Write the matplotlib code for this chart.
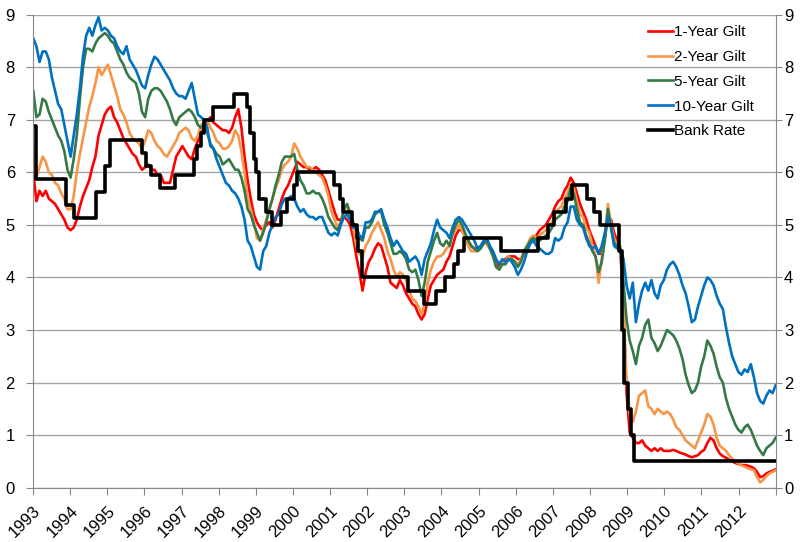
import matplotlib
matplotlib.use("Agg")
import matplotlib.pyplot as plt
import pandas as pd

plt.rcParams['font.family'] = ['Liberation Sans', 'DejaVu Sans']

dates = pd.date_range("1993-01-04", "2012-12-31", periods=240)

one_year = [
    6.0, 5.45, 5.65, 5.55, 5.65, 5.5, 5.45, 5.4, 5.3, 5.2, 5.1, 4.95,
    4.9, 4.95, 5.1, 5.35, 5.55, 5.7, 5.85, 6.1, 6.3, 6.7, 6.9, 7.1,
    7.2, 7.25, 7.05, 6.95, 6.8, 6.65, 6.55, 6.45, 6.35, 6.3, 6.15, 6.05,
    6.1, 6.15, 6.05, 6.05, 5.95, 5.95, 5.8, 5.8, 5.8, 6.05, 6.3, 6.4,
    6.5, 6.4, 6.3, 6.25, 6.45, 6.6, 6.75, 6.85, 6.95, 7.05, 6.95, 6.9,
    6.85, 6.8, 6.8, 6.75, 6.85, 7.05, 7.2, 6.85, 6.3, 5.85, 5.5, 5.2,
    5.05, 4.95, 4.9, 5.0, 5.05, 4.95, 5.1, 5.3, 5.5, 5.65, 5.75, 5.9,
    6.05, 6.2, 6.15, 6.1, 6.1, 6.05, 6.05, 6.1, 6.05, 5.95, 5.85, 5.65,
    5.45, 5.25, 5.1, 5.1, 5.15, 5.1, 5.0, 4.75, 4.4, 4.1, 3.75, 4.1,
    4.3, 4.4, 4.55, 4.65, 4.6, 4.4, 4.2, 3.9, 3.85, 3.8, 3.95, 3.85,
    3.7, 3.6, 3.5, 3.45, 3.3, 3.2, 3.3, 3.6, 3.85, 3.95, 4.05, 4.1,
    4.15, 4.3, 4.4, 4.6, 4.8, 4.9, 4.9, 4.8, 4.7, 4.6, 4.55, 4.55,
    4.6, 4.65, 4.65, 4.55, 4.45, 4.3, 4.2, 4.25, 4.35, 4.4, 4.4, 4.4,
    4.35, 4.35, 4.45, 4.55, 4.65, 4.75, 4.8, 4.9, 4.95, 5.0, 5.1, 5.2,
    5.35, 5.45, 5.5, 5.65, 5.75, 5.9, 5.8, 5.6, 5.4, 5.25, 5.1, 4.9,
    4.75, 4.6, 4.45, 4.45, 4.75, 5.15, 5.1, 4.85, 4.7, 4.5, 3.4, 1.8,
    1.05, 0.95, 0.85, 0.85, 0.9, 0.8, 0.75, 0.7, 0.75, 0.7, 0.75, 0.7,
    0.7, 0.7, 0.72, 0.7, 0.67, 0.65, 0.63, 0.6, 0.58, 0.6, 0.62, 0.68,
    0.72, 0.85, 0.95, 0.9, 0.75, 0.65, 0.6, 0.57, 0.53, 0.5, 0.47, 0.45,
    0.43, 0.43, 0.42, 0.4, 0.37, 0.3, 0.2, 0.22, 0.27, 0.3, 0.32, 0.35,
]

two_year = [
    6.5, 5.9, 6.1, 6.3, 6.2, 6.0, 5.95, 5.8, 5.75, 5.6, 5.5, 5.3,
    5.3, 5.55, 6.0, 6.35, 6.65, 6.95, 7.25, 7.45, 7.7, 8.0, 7.85, 7.95,
    8.05, 7.85, 7.65, 7.45, 7.2, 7.1, 6.95, 6.75, 6.65, 6.6, 6.55, 6.45,
    6.6, 6.8, 6.75, 6.6, 6.5, 6.45, 6.35, 6.3, 6.4, 6.5, 6.6, 6.75,
    6.8, 6.85, 6.8, 6.65, 6.6, 6.7, 6.9, 6.95, 7.0, 6.85, 6.75, 6.6,
    6.55, 6.45, 6.45, 6.5, 6.6, 6.8, 6.7, 6.4, 6.0, 5.5, 5.3, 5.05,
    4.75, 4.7, 4.9, 5.1, 5.3, 5.5, 5.7, 5.85, 6.05, 6.15, 6.2, 6.3,
    6.55, 6.45, 6.3, 6.2, 6.1, 6.1, 6.05, 6.0, 5.95, 5.9, 5.75, 5.55,
    5.25, 5.1, 4.95, 5.05, 5.25, 5.4, 5.25, 4.95, 4.6, 4.45, 4.4, 4.6,
    4.7, 4.85, 4.95, 5.05, 4.9, 4.75, 4.5, 4.35, 4.15, 4.0, 4.1, 4.05,
    3.95, 3.75, 3.6, 3.55, 3.45, 3.3, 3.5, 3.9, 4.15, 4.3, 4.4, 4.4,
    4.45, 4.55, 4.6, 4.8, 4.9, 5.0, 4.9, 4.75, 4.6, 4.5, 4.5, 4.5,
    4.55, 4.65, 4.65, 4.55, 4.45, 4.2, 4.15, 4.3, 4.3, 4.4, 4.35, 4.3,
    4.25, 4.35, 4.5, 4.6, 4.75, 4.8, 4.75, 4.8, 4.85, 4.9, 5.0, 5.05,
    5.2, 5.3, 5.35, 5.5, 5.6, 5.8, 5.7, 5.45, 5.2, 5.15, 4.95, 4.85,
    4.6, 4.4, 3.9, 4.35, 4.8, 5.4, 5.0, 4.75, 4.6, 4.6, 3.5, 2.0,
    1.4, 1.25, 1.45, 1.75, 1.8, 1.85, 1.55, 1.5, 1.4, 1.5, 1.45, 1.4,
    1.45, 1.4, 1.3, 1.15, 1.1, 1.0, 0.9, 0.85, 0.8, 0.75, 0.9, 1.05,
    1.2, 1.4, 1.35, 1.2, 0.95, 0.8, 0.75, 0.7, 0.62, 0.55, 0.5, 0.46,
    0.42, 0.4, 0.37, 0.35, 0.33, 0.2, 0.1, 0.15, 0.22, 0.27, 0.3, 0.33,
]

five_year = [
    7.55, 7.05, 7.1, 7.4, 7.35, 7.15, 7.0, 6.85, 6.7, 6.6, 6.4, 6.05,
    5.9, 6.25, 6.7, 7.4, 8.0, 8.35, 8.35, 8.3, 8.45, 8.55, 8.6, 8.65,
    8.6, 8.5, 8.45, 8.3, 8.15, 8.05, 7.9, 7.8, 7.75, 7.7, 7.5, 7.15,
    7.05, 7.4, 7.55, 7.6, 7.6, 7.55, 7.45, 7.35, 7.2, 7.0, 6.9, 7.05,
    7.1, 7.15, 7.2, 7.15, 7.05, 6.9, 6.85, 6.9, 6.75, 6.55, 6.45, 6.35,
    6.3, 6.15, 6.2, 6.25, 6.15, 6.05, 6.05, 5.9, 5.65, 5.3, 5.2, 5.0,
    4.85, 4.7, 4.85, 5.05, 5.3, 5.5, 5.75, 5.95, 6.2, 6.3, 6.3, 6.3,
    6.35, 6.05, 5.85, 5.75, 5.6, 5.6, 5.65, 5.6, 5.6, 5.5, 5.35, 5.15,
    5.05, 4.95, 4.9, 5.05, 5.3, 5.4, 5.2, 5.05, 4.9, 4.75, 4.7, 4.95,
    4.95, 5.05, 5.2, 5.25, 5.25, 5.0, 4.85, 4.65, 4.45, 4.45, 4.5, 4.45,
    4.35, 4.15, 4.1, 4.15, 3.95, 3.65, 3.9, 4.3, 4.5, 4.7, 4.85, 4.65,
    4.6, 4.7, 4.6, 4.85, 5.0, 5.1, 5.0, 4.85, 4.7, 4.6, 4.55, 4.5,
    4.55, 4.65, 4.7, 4.55, 4.4, 4.2, 4.15, 4.25, 4.25, 4.35, 4.35, 4.3,
    4.2, 4.3, 4.5, 4.6, 4.7, 4.75, 4.7, 4.7, 4.75, 4.8, 4.85, 4.95,
    5.1, 5.15, 5.2, 5.35, 5.45, 5.7, 5.6, 5.3, 5.05, 5.0, 4.8, 4.65,
    4.5, 4.4, 4.1, 4.3, 4.7, 5.3, 4.95, 4.65, 4.6, 4.5, 3.9, 3.2,
    2.8, 2.6, 2.35, 2.7, 2.85, 3.1, 3.2, 2.85, 2.75, 2.6, 2.7, 2.85,
    3.0, 2.95, 2.9, 2.8, 2.65, 2.45, 2.15, 1.95, 1.8, 1.85, 2.0, 2.3,
    2.5, 2.8, 2.7, 2.55, 2.3, 2.1, 2.0, 1.7, 1.5, 1.35, 1.2, 1.1,
    1.05, 1.15, 1.2, 1.1, 0.95, 0.8, 0.7, 0.62, 0.75, 0.8, 0.85, 0.95,
]

ten_year = [
    8.55, 8.4, 8.1, 8.3, 8.3, 8.15, 7.8, 7.55, 7.3, 7.2, 6.9, 6.6,
    6.3, 6.7, 7.1, 7.6, 8.2, 8.6, 8.75, 8.6, 8.8, 8.95, 8.7, 8.75,
    8.7, 8.6, 8.55, 8.4, 8.3, 8.25, 8.4, 8.15, 8.05, 7.95, 7.8, 7.65,
    7.6, 7.85, 8.05, 8.2, 8.15, 8.05, 7.95, 7.85, 7.75, 7.6, 7.5, 7.45,
    7.45, 7.4, 7.55, 7.7, 7.4, 7.1, 7.05, 7.0, 6.85, 6.5, 6.45, 6.25,
    6.1, 5.95, 5.8, 5.75, 5.65, 5.6, 5.5, 5.35, 5.1, 4.7, 4.6, 4.4,
    4.2, 4.15, 4.5, 4.6, 4.85, 5.0, 5.15, 5.2, 5.4, 5.5, 5.5, 5.55,
    5.5, 5.35, 5.25, 5.3, 5.2, 5.15, 5.15, 5.1, 5.15, 5.15, 5.0, 4.85,
    4.8, 4.85, 4.8, 5.0, 5.15, 5.2, 5.1, 4.95, 4.95, 4.8, 4.75, 5.05,
    5.05, 5.1, 5.25, 5.25, 5.3, 5.1, 4.95, 4.75, 4.6, 4.7, 4.6, 4.5,
    4.45, 4.3, 4.35, 4.4, 4.3, 4.05, 4.35, 4.5, 4.65, 4.9, 5.1, 4.95,
    4.9, 4.85, 4.75, 4.95, 5.1, 5.15, 5.1, 5.0, 4.9, 4.8, 4.7, 4.55,
    4.6, 4.7, 4.75, 4.6, 4.5, 4.35, 4.25, 4.35, 4.3, 4.35, 4.3, 4.2,
    4.05, 4.15, 4.3, 4.5, 4.65, 4.7, 4.6, 4.55, 4.5, 4.45, 4.45, 4.5,
    4.75, 4.7, 4.75, 4.95, 5.05, 5.35, 5.35, 5.1, 5.0, 4.95, 4.75, 4.6,
    4.55, 4.6, 4.45, 4.6, 4.85, 5.15, 4.95, 4.6, 4.55, 4.55, 4.35, 3.85,
    3.6, 3.9, 3.15, 3.5, 3.75, 3.9, 3.75, 3.95, 3.7, 3.6, 3.85, 3.95,
    4.15, 4.25, 4.3, 4.2, 4.05, 3.85, 3.7, 3.45, 3.15, 3.2, 3.45, 3.65,
    3.85, 4.0, 3.95, 3.85, 3.65, 3.5, 3.4, 3.05, 2.75, 2.5, 2.35, 2.2,
    2.15, 2.25, 2.2, 2.35, 2.1, 1.8, 1.65, 1.6, 1.75, 1.85, 1.8, 1.95,
]

# Bank Rate: date of each change and the new level
bank_dates = [
    "1993-01-01", "1993-01-26", "1993-11-23", "1994-02-08", "1994-09-12",
    "1994-12-07", "1995-02-02", "1995-12-13", "1996-01-18", "1996-03-08",
    "1996-06-06", "1996-10-30", "1997-05-06", "1997-06-06", "1997-07-10",
    "1997-08-07", "1997-11-06", "1998-06-04", "1998-10-08", "1998-11-05",
    "1998-12-10", "1999-01-07", "1999-02-04", "1999-04-08", "1999-06-10",
    "1999-09-08", "1999-11-04", "2000-01-13", "2000-02-10", "2001-02-08",
    "2001-04-05", "2001-05-10", "2001-08-02", "2001-09-18", "2001-10-04",
    "2001-11-08", "2003-02-06", "2003-07-10", "2003-11-06", "2004-02-05",
    "2004-05-06", "2004-06-10", "2004-08-05", "2005-08-04", "2006-08-03",
    "2006-11-09", "2007-01-11", "2007-05-10", "2007-07-05", "2007-12-06",
    "2008-02-07", "2008-04-10", "2008-10-08", "2008-11-06", "2008-12-04",
    "2009-01-08", "2009-02-05", "2009-03-05", "2012-12-31",
]
bank_rate = [
    6.875, 5.875, 5.375, 5.125, 5.625,
    6.125, 6.625, 6.375, 6.125, 5.95,
    5.7, 5.95, 6.25, 6.5, 6.75,
    7.0, 7.25, 7.5, 7.25, 6.75,
    6.25, 6.0, 5.5, 5.25, 5.0,
    5.25, 5.5, 5.75, 6.0, 5.75,
    5.5, 5.25, 5.0, 4.75, 4.5,
    4.0, 3.75, 3.5, 3.75, 4.0,
    4.25, 4.5, 4.75, 4.5, 4.75,
    5.0, 5.25, 5.5, 5.75, 5.5,
    5.25, 5.0, 4.5, 3.0, 2.0,
    1.5, 1.0, 0.5, 0.5,
]

year_labels = [str(y) for y in range(1993, 2013)]

fig = plt.figure(figsize=(8.03, 5.42), dpi=100)
ax = fig.add_axes([0.0411, 0.1002, 0.925, 0.8727])

lw = 1.9
ax.plot(dates, one_year, color="#FF0000", lw=lw, label="1-Year Gilt")
ax.plot(dates, two_year, color="#F79646", lw=lw, label="2-Year Gilt")
ax.plot(dates, five_year, color="#357A46", lw=lw, label="5-Year Gilt")
ax.plot(dates, ten_year, color="#0070C0", lw=lw, label="10-Year Gilt")
ax.step(pd.to_datetime(bank_dates), bank_rate, where="post", color="black",
        lw=2.6, label="Bank Rate")

ax.set_xlim(pd.Timestamp("1993-01-01"), pd.Timestamp("2013-01-01"))
ax.set_ylim(0, 9)

ticks = [pd.Timestamp(f"{y}-01-01") for y in range(1993, 2014)]
ax.set_xticks(ticks)
ax.set_xticklabels(year_labels + [""], rotation=45, ha="right",
                   rotation_mode="anchor", fontsize=12)
ax.set_yticks(range(10))
ax.tick_params(axis="y", labelsize=12, length=5, color="#888888", pad=8)
ax.tick_params(axis="x", length=5, color="#888888", pad=6)

# right-hand copy of the value axis
ax2 = ax.twinx()
ax2.set_ylim(0, 9)
ax2.set_yticks(range(10))
ax2.tick_params(axis="y", labelsize=12, length=4, color="#888888", pad=2)
for side in ["left", "right", "bottom", "top"]:
    ax2.spines[side].set_visible(False)

ax.grid(axis="y", color="#A6A6A6", lw=1)
ax.set_axisbelow(True)
for side in ["left", "right", "bottom"]:
    ax.spines[side].set_color("#888888")
ax.spines["top"].set_visible(False)

ax.legend(loc="upper left", bbox_to_anchor=(0.7995, 0.965),
          bbox_transform=fig.transFigure, frameon=False,
          fontsize=11, handlelength=1.6, handletextpad=0.1,
          labelspacing=0.71, borderaxespad=0)

fig.savefig("out.png", dpi=100)
